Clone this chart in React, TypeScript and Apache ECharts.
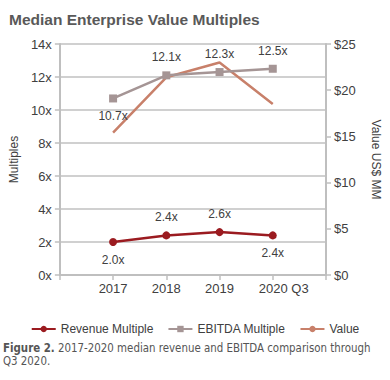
import React, { useEffect, useRef } from "react";
import * as echarts from "echarts";

const categories = ["", "2017", "2018", "2019", "2020 Q3", ""];
const revenueMultiple = [null, 2.0, 2.4, 2.6, 2.4, null];
const ebitdaMultiple = [null, 10.7, 12.1, 12.3, 12.5, null];
const valueUSD = [null, 15.4, 21.4, 23.0, 18.5, null];
const revenueLabelPos = ["", "bottom", "top", "top", "bottom", ""];
const ebitdaLabelPos = ["", "bottom", "top", "top", "top", ""];

export default function App() {
  const ref = useRef<HTMLDivElement>(null);
  useEffect(() => {
    document.body.style.margin = "0";
    const chart = echarts.init(ref.current!, null, { renderer: "svg" });
    const font = "'Liberation Sans', Arial, sans-serif";
    const capFont = "'DejaVu Sans Condensed', 'DejaVu Sans', sans-serif";
    const txt = "#404040";
    chart.setOption({
      animation: false,
      textStyle: { fontFamily: font },
      title: {
        text: "Median Enterprise Value Multiples",
        left: 4,
        top: 6,
        textStyle: { fontSize: 15.5, fontWeight: "bold", color: "#595959", fontFamily: font },
      },
      grid: { left: 57, right: 62, top: 44, bottom: 105 },
      legend: {
        top: 318,
        left: "center",
        itemWidth: 24,
        itemHeight: 8,
        itemGap: 14,
        textStyle: { fontSize: 12, color: txt, fontFamily: font },
        data: ["Revenue Multiple", "EBITDA Multiple", "Value"],
      },
      xAxis: {
        type: "category",
        data: categories,
        boundaryGap: false,
        axisLine: { lineStyle: { color: "#bfbfbf", width: 2 } },
        axisTick: { show: true, interval: 0, length: 5, lineStyle: { color: "#bfbfbf", width: 1.5 } },
        axisLabel: {
          interval: 0,
          fontSize: 13,
          color: txt,
          fontFamily: font,
          margin: 7,
          formatter: (v: string) => (v === "2020 Q3" ? "{s|}2020 Q3" : v),
          rich: { s: { width: 22 } },
        },
      },
      yAxis: [
        {
          type: "value",
          min: 0,
          max: 14,
          interval: 2,
          name: "Multiples",
          nameLocation: "middle",
          nameGap: 39,
          nameTextStyle: { fontSize: 12, color: txt, fontFamily: font },
          axisLine: { show: true, lineStyle: { color: "#bfbfbf", width: 2 } },
          axisTick: { show: true, length: 5, lineStyle: { color: "#bfbfbf", width: 1.5 } },
          axisLabel: { fontSize: 13, color: txt, fontFamily: font, margin: 8, formatter: (v: number) => v + "x" },
          splitLine: { lineStyle: { color: "#c0c0c0", width: 1.5 } },
        },
        {
          type: "value",
          min: 0,
          max: 25,
          interval: 5,
          name: "Value US$ MM",
          nameLocation: "middle",
          nameRotate: -90,
          nameGap: 44,
          nameTextStyle: { fontSize: 12, color: txt, fontFamily: font },
          axisLine: { show: true, lineStyle: { color: "#bfbfbf", width: 2 } },
          axisTick: { show: true, length: 5, lineStyle: { color: "#bfbfbf", width: 1.5 } },
          axisLabel: { fontSize: 13, color: txt, fontFamily: font, margin: 8, formatter: (v: number) => "$" + v },
          splitLine: { show: false },
        },
      ],
      series: [
        {
          name: "Revenue Multiple",
          type: "line",
          yAxisIndex: 0,
          data: revenueMultiple.map((v, i) => ({
            value: v,
            label: { position: revenueLabelPos[i] },
          })),
          symbol: "circle",
          symbolSize: 8,
          itemStyle: { color: "#9b1b20" },
          lineStyle: { width: 2.5, color: "#9b1b20" },
          label: {
            show: true,
            fontSize: 12,
            color: txt,
            fontFamily: font,
            distance: 8,
            formatter: (p: any) => Number(p.value).toFixed(1) + "x",
          },
          z: 4,
        },
        {
          name: "EBITDA Multiple",
          type: "line",
          yAxisIndex: 0,
          data: ebitdaMultiple.map((v, i) => ({
            value: v,
            label: { position: ebitdaLabelPos[i] },
          })),
          symbol: "rect",
          symbolSize: 8,
          itemStyle: { color: "#a59595" },
          lineStyle: { width: 2.5, color: "#a59595" },
          label: {
            show: true,
            fontSize: 12,
            color: txt,
            fontFamily: font,
            distance: 8,
            formatter: (p: any) => Number(p.value).toFixed(1) + "x",
          },
          z: 3,
        },
        {
          name: "Value",
          type: "line",
          yAxisIndex: 1,
          data: valueUSD,
          symbol: "none",
          itemStyle: { color: "#c8806a" },
          lineStyle: { width: 2.5, color: "#c8806a" },
          z: 2,
        },
      ],
      graphic: [
        {
          type: "text",
          left: 3,
          top: 341,
          style: {
            text: "{b|Figure 2.} 2017-2020 median revenue and EBITDA comparison through\nQ3 2020.",
            fontFamily: capFont,
            fontSize: 11.4,
            lineHeight: 13,
            fill: "#555555",
            rich: {
              b: { fontWeight: "bold", fontSize: 11.4, fill: "#555555", fontFamily: capFont },
            },
          },
        },
      ],
    });
    return () => chart.dispose();
  }, []);
  return <div ref={ref} style={{ width: 390, height: 380, position: "absolute", left: 0, top: 0 }} />;
}
